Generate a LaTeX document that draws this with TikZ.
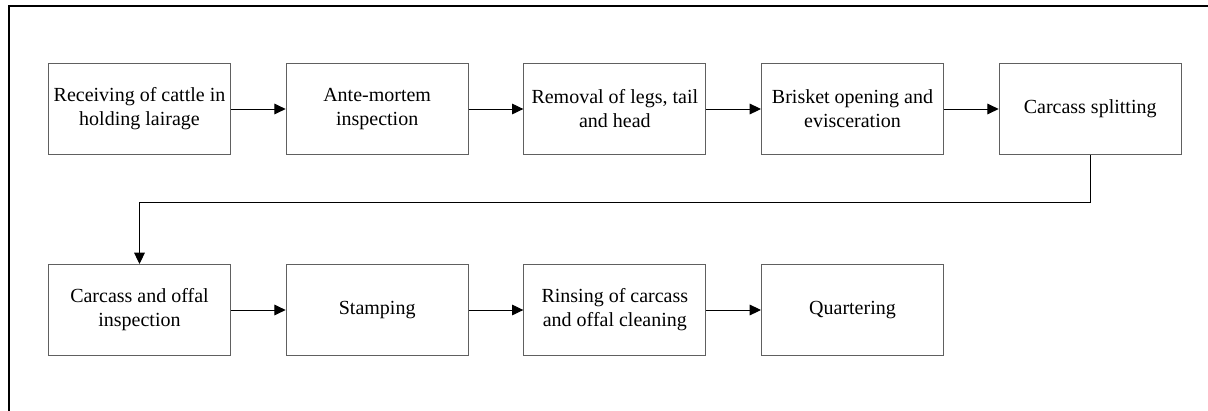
\documentclass[tikz,border=0pt]{standalone}
\usepackage{fontspec}
\setmainfont{Liberation Serif}
\usetikzlibrary{arrows.meta,positioning}

\begin{document}
\begin{tikzpicture}[
		x=0.75pt, y=-0.75pt,
		font=\fontsize{15}{18}\selectfont,
		>={Triangle[length=8.5pt,width=8pt]},
		line/.style={->, line width=0.75pt},
		stage/.style={draw=gray!75!black, line width=0.75pt, align=center, minimum width=136.5pt, minimum height=68.25pt, inner sep=0pt},
		node distance=41pt
		]
		\useasboundingbox (0,0) rectangle (1208,411);
		% Outer frame (top and left edges only)
		\draw[line width=1.6pt] (9,411) -- (9,6) -- (1208,6);
		
		% First row of stages
		\node[stage, anchor=north west] (receive) at (48,63) {Receiving of cattle in\\holding lairage};
		\node[stage, right=of receive] (antemortem) {Ante-mortem\\inspection};
		\node[stage, right=of antemortem] (removal) {Removal of legs, tail\\and head};
		\node[stage, right=of removal] (brisket) {Brisket opening and\\evisceration};
		\node[stage, right=of brisket] (split) {Carcass splitting};
		
		% Second row of stages
		\node[stage, below=81.75pt of receive] (inspect) {Carcass and offal\\inspection};
		\node[stage, right=of inspect] (stamp) {Stamping};
		\node[stage, right=of stamp] (rinse) {Rinsing of carcass\\and offal cleaning};
		\node[stage, right=of rinse] (quarter) {Quartering};
		
		% Flow along first row
		\draw[line] (receive.east) -- (antemortem.west);
		\draw[line] (antemortem.east) -- (removal.west);
		\draw[line] (removal.east) -- (brisket.west);
		\draw[line] (brisket.east) -- (split.west);
		
		% Return to second row
		\draw[line] (split.south) -- ++(0,47) -| (inspect.north);
		
		% Flow along second row
		\draw[line] (inspect.east) -- (stamp.west);
		\draw[line] (stamp.east) -- (rinse.west);
		\draw[line] (rinse.east) -- (quarter.west);
	\end{tikzpicture}
\end{document}
